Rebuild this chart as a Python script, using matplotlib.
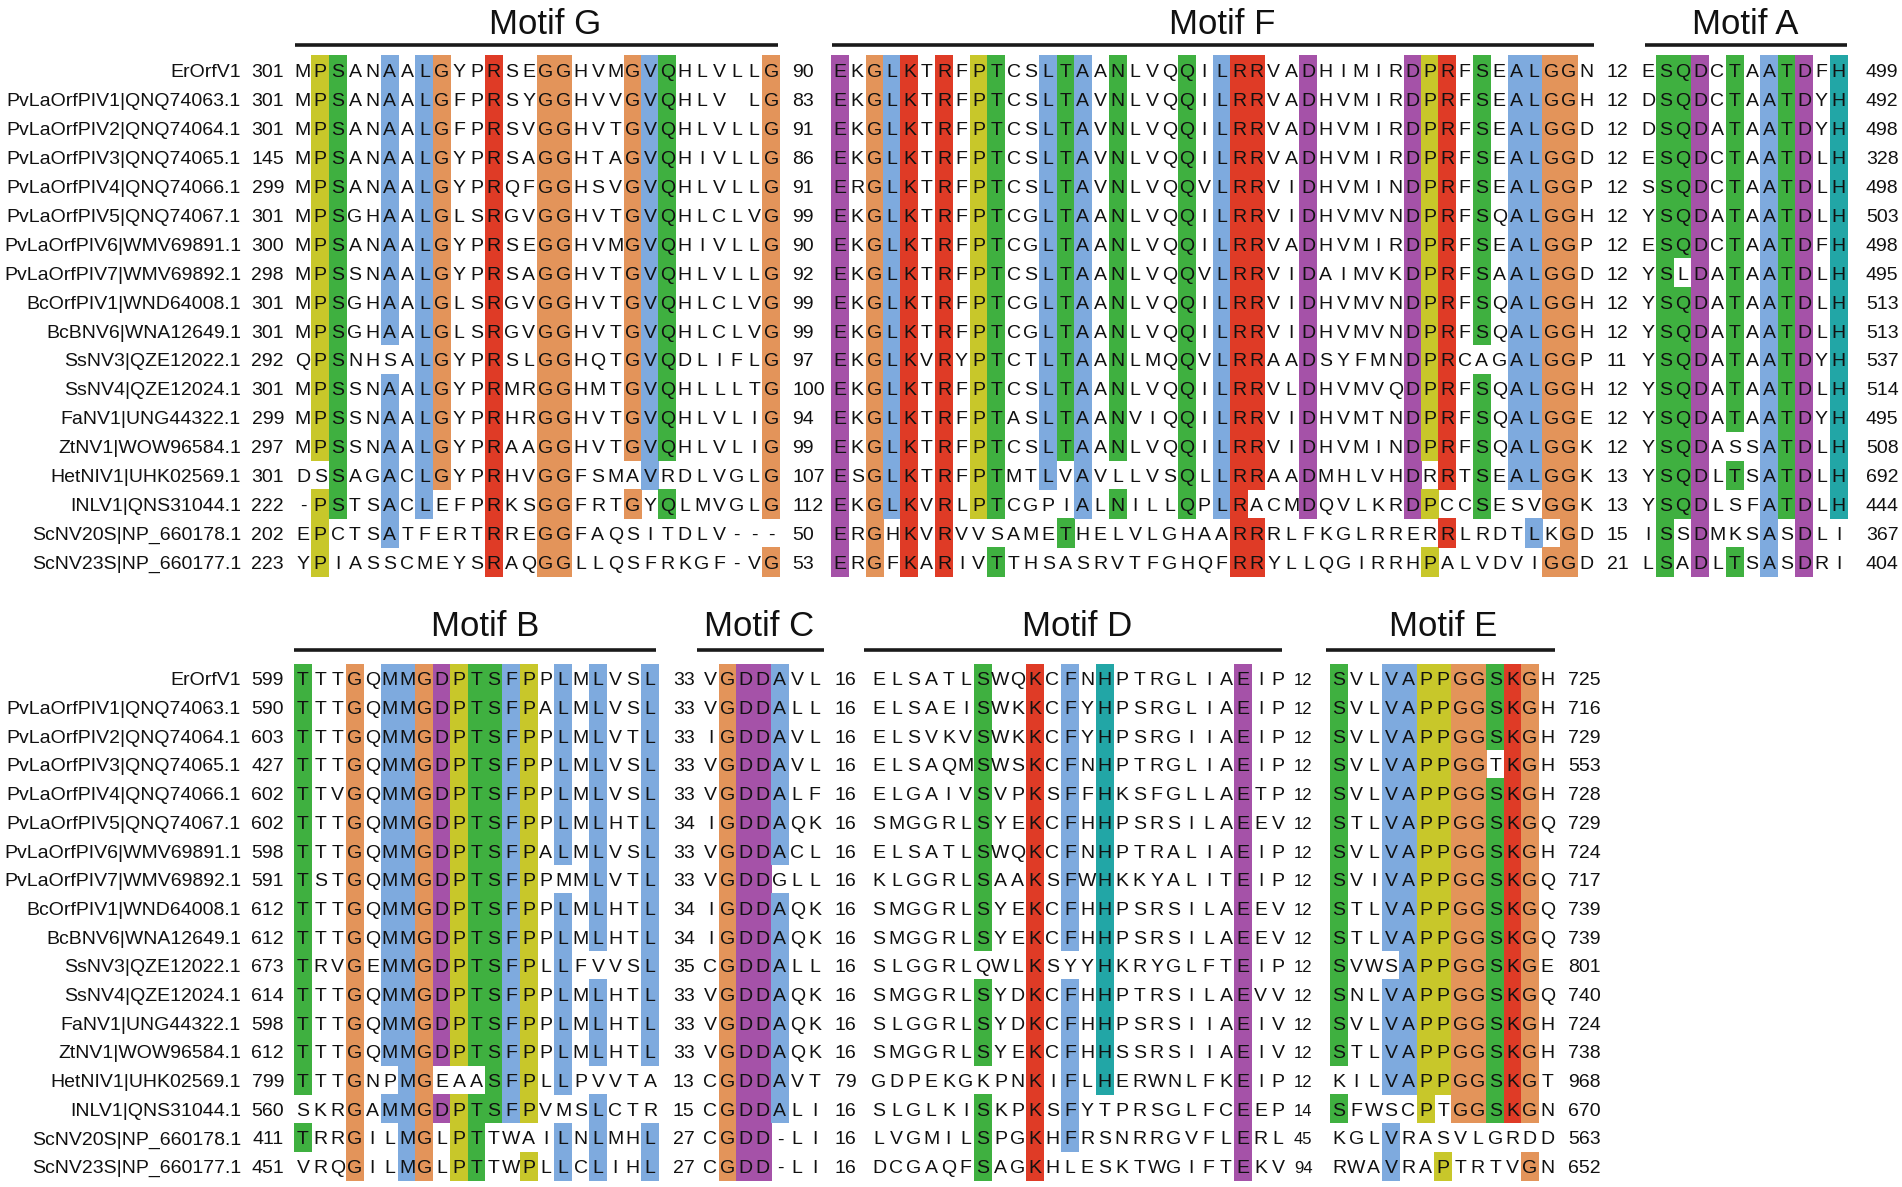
import matplotlib
matplotlib.use("Agg")
import matplotlib.pyplot as plt
from matplotlib.patches import Rectangle
from collections import Counter

# ---------------- data ----------------
names = [
    "ErOrfV1",
    "PvLaOrfPIV1|QNQ74063.1",
    "PvLaOrfPIV2|QNQ74064.1",
    "PvLaOrfPIV3|QNQ74065.1",
    "PvLaOrfPIV4|QNQ74066.1",
    "PvLaOrfPIV5|QNQ74067.1",
    "PvLaOrfPIV6|WMV69891.1",
    "PvLaOrfPIV7|WMV69892.1",
    "BcOrfPIV1|WND64008.1",
    "BcBNV6|WNA12649.1",
    "SsNV3|QZE12022.1",
    "SsNV4|QZE12024.1",
    "FaNV1|UNG44322.1",
    "ZtNV1|WOW96584.1",
    "HetNIV1|UHK02569.1",
    "INLV1|QNS31044.1",
    "ScNV20S|NP_660178.1",
    "ScNV23S|NP_660177.1",
]

top_start = [301, 301, 301, 145, 299, 301, 300, 298, 301, 301, 292, 301, 299, 297, 301, 222, 202, 223]

motif_G = [
    "MPSANAALGYPRSEGGHVMGVQHLVLLG",
    "MPSANAALGFPRSYGGHVVGVQHLV LG",
    "MPSANAALGFPRSVGGHVTGVQHLVLLG",
    "MPSANAALGYPRSAGGHTAGVQHIVLLG",
    "MPSANAALGYPRQFGGHSVGVQHLVLLG",
    "MPSGHAALGLSRGVGGHVTGVQHLCLVG",
    "MPSANAALGYPRSEGGHVMGVQHIVLLG",
    "MPSSNAALGYPRSAGGHVTGVQHLVLLG",
    "MPSGHAALGLSRGVGGHVTGVQHLCLVG",
    "MPSGHAALGLSRGVGGHVTGVQHLCLVG",
    "QPSNHSALGYPRSLGGHQTGVQDLIFLG",
    "MPSSNAALGYPRMRGGHMTGVQHLLLTG",
    "MPSSNAALGYPRHRGGHVTGVQHLVLIG",
    "MPSSNAALGYPRAAGGHVTGVQHLVLIG",
    "DSSAGACLGYPRHVGGFSMAVRDLVGLG",
    "-PSTSACLEFPRKSGGFRTGYQLMVGLG",
    "EPCTSATFERTRREGGFAQSITDLV---",
    "YPIASSCMEYSRAQGGLLQSFRKGF-VG",
]
gap_G = [90, 83, 91, 86, 91, 99, 90, 92, 99, 99, 97, 100, 94, 99, 107, 112, 50, 53]

motif_F = [
    "EKGLKTRFPTCSLTAANLVQQILRRVADHIMIRDPRFSEALGGN",
    "EKGLKTRFPTCSLTAVNLVQQILRRVADHVMIRDPRFSEALGGH",
    "EKGLKTRFPTCSLTAVNLVQQILRRVADHVMIRDPRFSEALGGD",
    "EKGLKTRFPTCSLTAVNLVQQILRRVADHVMIRDPRFSEALGGD",
    "ERGLKTRFPTCSLTAVNLVQQVLRRVIDHVMINDPRFSEALGGP",
    "EKGLKTRFPTCGLTAANLVQQILRRVIDHVMVNDPRFSQALGGH",
    "EKGLKTRFPTCGLTAANLVQQILRRVADHVMIRDPRFSEALGGP",
    "EKGLKTRFPTCSLTAANLVQQVLRRVIDAIMVKDPRFSAALGGD",
    "EKGLKTRFPTCGLTAANLVQQILRRVIDHVMVNDPRFSQALGGH",
    "EKGLKTRFPTCGLTAANLVQQILRRVIDHVMVNDPRFSQALGGH",
    "EKGLKVRYPTCTLTAANLMQQVLRRAADSYFMNDPRCAGALGGP",
    "EKGLKTRFPTCSLTAANLVQQILRRVLDHVMVQDPRFSQALGGH",
    "EKGLKTRFPTASLTAANVIQQILRRVIDHVMTNDPRFSQALGGE",
    "EKGLKTRFPTCSLTAANLVQQILRRVIDHVMINDPRFSQALGGK",
    "ESGLKTRFPTMTLVAVLLVSQLLRRAADMHLVHDRRTSEALGGK",
    "EKGLKVRLPTCGPIALNILLQPLRACMDQVLKRDPCCSESVGGK",
    "ERGHKVRVVSAMETHELVLGHAARRRLFKGLRRERRLRDTLKGD",
    "ERGFKARIVTTHSASRVTFGHQFRRYLLQGIRRHPALVDVIGGD",
]
gap_F = [12, 12, 12, 12, 12, 12, 12, 12, 12, 12, 11, 12, 12, 12, 13, 13, 15, 21]

motif_A = [
    "ESQDCTAATDFH",
    "DSQDCTAATDYH",
    "DSQDATAATDYH",
    "ESQDCTAATDLH",
    "SSQDCTAATDLH",
    "YSQDATAATDLH",
    "ESQDCTAATDFH",
    "YSLDATAATDLH",
    "YSQDATAATDLH",
    "YSQDATAATDLH",
    "YSQDATAATDYH",
    "YSQDATAATDLH",
    "YSQDATAATDYH",
    "YSQDASSATDLH",
    "YSQDLTSATDLH",
    "YSQDLSFATDLH",
    "ISSDMKSASDLI",
    "LSADLTSASDRI",
]
top_end = [499, 492, 498, 328, 498, 503, 498, 495, 513, 513, 537, 514, 495, 508, 692, 444, 367, 404]

bot_start = [599, 590, 603, 427, 602, 602, 598, 591, 612, 612, 673, 614, 598, 612, 799, 560, 411, 451]

motif_B = [
    "TTTGQMMGDPTSFPPLMLVSL",
    "TTTGQMMGDPTSFPALMLVSL",
    "TTTGQMMGDPTSFPPLMLVTL",
    "TTTGQMMGDPTSFPPLMLVSL",
    "TTVGQMMGDPTSFPPLMLVSL",
    "TTTGQMMGDPTSFPPLMLHTL",
    "TTTGQMMGDPTSFPALMLVSL",
    "TSTGQMMGDPTSFPPMMLVTL",
    "TTTGQMMGDPTSFPPLMLHTL",
    "TTTGQMMGDPTSFPPLMLHTL",
    "TRVGEMMGDPTSFPLLFVVSL",
    "TTTGQMMGDPTSFPPLMLHTL",
    "TTTGQMMGDPTSFPPLMLHTL",
    "TTTGQMMGDPTSFPPLMLHTL",
    "TTTGNPMGEAASFPLLPVVTA",
    "SKRGAMMGDPTSFPVMSLCTR",
    "TRRGILMGLPTTWAILNLMHL",
    "VRQGILMGLPTTWPLLCLIHL",
]
gap_B = [33, 33, 33, 33, 33, 34, 33, 33, 34, 34, 35, 33, 33, 33, 13, 15, 27, 27]

motif_C = [
    "VGDDAVL", "VGDDALL", "IGDDAVL", "VGDDAVL", "VGDDALF", "IGDDAQK",
    "VGDDACL", "VGDDGLL", "IGDDAQK", "IGDDAQK", "CGDDALL", "VGDDAQK",
    "VGDDAQK", "VGDDAQK", "CGDDAVT", "CGDDALI", "CGDD-LI", "CGDD-LI",
]
gap_C = [16, 16, 16, 16, 16, 16, 16, 16, 16, 16, 16, 16, 16, 16, 79, 16, 16, 16]

motif_D = [
    "ELSATLSWQKCFNHPTRGLIAEIP",
    "ELSAEISWKKCFYHPSRGLIAEIP",
    "ELSVKVSWKKCFYHPSRGIIAEIP",
    "ELSAQMSWSKCFNHPTRGLIAEIP",
    "ELGAIVSVPKSFFHKSFGLLAETP",
    "SMGGRLSYEKCFHHPSRSILAEEV",
    "ELSATLSWQKCFNHPTRALIAEIP",
    "KLGGRLSAAKSFWHKKYALITEIP",
    "SMGGRLSYEKCFHHPSRSILAEEV",
    "SMGGRLSYEKCFHHPSRSILAEEV",
    "SLGGRLQWLKSYYHKRYGLFTEIP",
    "SMGGRLSYDKCFHHPTRSILAEVV",
    "SLGGRLSYDKCFHHPSRSIIAEIV",
    "SMGGRLSYEKCFHHSSRSIIAEIV",
    "GDPEKGKPNKIFLHERWNLFKEIP",
    "SLGLKISKPKSFYTPRSGLFCEEP",
    "LVGMILSPGKHFRSNRRGVFLERL",
    "DCGAQFSAGKHLESKTWGIFTEKV",
]
gap_D = [12, 12, 12, 12, 12, 12, 12, 12, 12, 12, 12, 12, 12, 12, 12, 14, 45, 94]

motif_E = [
    "SVLVAPPGGSKGH", "SVLVAPPGGSKGH", "SVLVAPPGGSKGH", "SVLVAPPGGTKGH",
    "SVLVAPPGGSKGH", "STLVAPPGGSKGQ", "SVLVAPPGGSKGH", "SVIVAPPGGSKGQ",
    "STLVAPPGGSKGQ", "STLVAPPGGSKGQ", "SVWSAPPGGSKGE", "SNLVAPPGGSKGQ",
    "SVLVAPPGGSKGH", "STLVAPPGGSKGH", "KILVAPPGGSKGT", "SFWSCPTGGSKGN",
    "KGLVRASVLGRDD", "RWAVRAPTRTVGN",
]
bot_end = [725, 716, 729, 553, 728, 729, 724, 717, 739, 739, 801, 740, 724, 738, 968, 670, 563, 652]

# ---------------- styling ----------------
BLUE, RED, GREEN = "#7eaade", "#df3b26", "#3fb040"
ORANGE, YELLOW = "#e3945a", "#c8c72a"
MAGENTA, CYAN = "#a552a8", "#22a6a6"
RES_COLORS = {
    "A": BLUE, "I": BLUE, "L": BLUE, "M": BLUE, "F": BLUE, "W": BLUE, "V": BLUE, "C": BLUE,
    "K": RED, "R": RED,
    "D": MAGENTA, "E": MAGENTA,
    "N": GREEN, "Q": GREEN, "S": GREEN, "T": GREEN,
    "G": ORANGE, "P": YELLOW,
    "H": CYAN, "Y": CYAN,
}
THRESH = 0.8
FONT = "Liberation Sans"
FS = 14
CW = 17.35
W, H = 1902, 1187

fig = plt.figure(figsize=(W / 100, H / 100), dpi=100)
ax = fig.add_axes([0, 0, 1, 1])
ax.set_xlim(0, W)
ax.set_ylim(H, 0)
ax.axis("off")


def draw_segment(seqs, x0, ys, rh):
    n = len(seqs)
    ncol = max(len(s) for s in seqs)
    for j in range(ncol):
        col = [s[j] if j < len(s) else " " for s in seqs]
        cnt = Counter(col)
        xc = x0 + j * CW
        for i, ch in enumerate(col):
            if ch in RES_COLORS and cnt[ch] / n > THRESH:
                ax.add_patch(Rectangle((xc - CW / 2 - 0.3, ys[i] - rh / 2 - 0.3),
                                       CW + 0.6, rh + 0.6,
                                       facecolor=RES_COLORS[ch], edgecolor="none",
                                       linewidth=0, zorder=1))
            if ch != " ":
                ax.text(xc, ys[i] + 7, ch, fontsize=FS, family=FONT, ha="center",
                        va="baseline", color="#111111", zorder=3)
    return x0, x0 + (ncol - 1) * CW


def draw_numbers(vals, x, ys, ha="left", fs=FS):
    for v, y in zip(vals, ys):
        ax.text(x, y + 7, str(v), fontsize=fs, family=FONT, ha=ha,
                va="baseline", color="#111111", zorder=3)


def motif_header(label, x1, x2, xt, y_line, y_text):
    ax.plot([x1, x2], [y_line, y_line], color="#1a1a1a", lw=2.6,
            solid_capstyle="butt", zorder=3)
    ax.text(xt, y_text, label, fontsize=25, family=FONT, ha="center",
            va="baseline", color="#111111", zorder=3)


# ---------------- top block ----------------
top_y0, top_dy = 70.0, 28.95
ys_top = [top_y0 + i * top_dy for i in range(len(names))]
for nm, y in zip(names, ys_top):
    ax.text(241, y + 7, nm, fontsize=FS, family=FONT, ha="right", va="baseline",
            color="#111111", zorder=3)
draw_numbers(top_start, 284, ys_top, ha="right")
draw_segment(motif_G, 303, ys_top, top_dy)
draw_numbers(gap_G, 792, ys_top)
draw_segment(motif_F, 840, ys_top, top_dy)
draw_numbers(gap_F, 1607, ys_top)
draw_segment(motif_A, 1648, ys_top, top_dy)
draw_numbers(top_end, 1866, ys_top)

motif_header("Motif G", 295, 778, 545, 45, 33.5)
motif_header("Motif F", 832, 1594, 1222, 45, 33.5)
motif_header("Motif A", 1645, 1847, 1745, 45, 33.5)

# ---------------- bottom block ----------------
bot_y0, bot_dy = 678.3, 28.7
ys_bot = [bot_y0 + i * bot_dy for i in range(len(names))]
for nm, y in zip(names, ys_bot):
    ax.text(241, y + 7, nm, fontsize=FS, family=FONT, ha="right", va="baseline",
            color="#111111", zorder=3)
draw_numbers(bot_start, 284, ys_bot, ha="right")
draw_segment(motif_B, 303, ys_bot, bot_dy)
draw_numbers(gap_B, 673, ys_bot)
draw_segment(motif_C, 710.5, ys_bot, bot_dy)
draw_numbers(gap_C, 835, ys_bot)
draw_segment(motif_D, 879, ys_bot, bot_dy)
draw_numbers(gap_D, 1294, ys_bot, fs=12)
draw_segment(motif_E, 1339, ys_bot, bot_dy)
draw_numbers(bot_end, 1568, ys_bot)

motif_header("Motif B", 294, 656, 485, 650, 636)
motif_header("Motif C", 697, 824, 759, 650, 636)
motif_header("Motif D", 864, 1282, 1077, 650, 636)
motif_header("Motif E", 1326, 1555, 1443, 650, 636)

fig.savefig("out.png", dpi=100, facecolor="white")
